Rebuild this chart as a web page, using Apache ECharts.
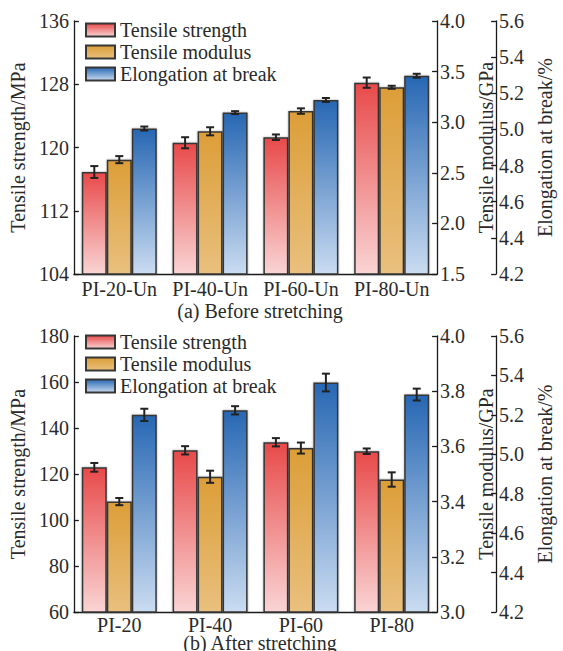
<!DOCTYPE html>
<html>
<head>
<meta charset="utf-8">
<script src="https://cdn.jsdelivr.net/npm/echarts@6/dist/echarts.min.js"></script>
<style>
html,body{margin:0;padding:0;background:#fff;}
#chart{width:563px;height:651px;}
</style>
</head>
<body>
<div id="chart"></div>
<script>
// ---------- data ----------
const categoriesBefore = ['PI-20-Un', 'PI-40-Un', 'PI-60-Un', 'PI-80-Un'];
const categoriesAfter = ['PI-20', 'PI-40', 'PI-60', 'PI-80'];
const seriesNames = ['Tensile strength', 'Tensile modulus', 'Elongation at break'];

const strengthBefore = [116.9, 120.6, 121.3, 128.2];
const strengthBeforeErr = [0.75, 0.7, 0.35, 0.65];
const modulusBefore = [2.63, 2.91, 3.11, 3.345];
const modulusBeforeErr = [0.035, 0.04, 0.027, 0.015];
const elongBefore = [5.005, 5.093, 5.163, 5.297];
const elongBeforeErr = [0.011, 0.008, 0.011, 0.011];

const strengthAfter = [122.9, 130.3, 133.8, 129.9];
const strengthAfterErr = [1.9, 1.8, 1.8, 1.2];
const modulusAfter = [3.40, 3.49, 3.594, 3.48];
const modulusAfterErr = [0.013, 0.022, 0.02, 0.026];
const elongAfter = [5.20, 5.223, 5.364, 5.303];
const elongAfterErr = [0.031, 0.021, 0.045, 0.03];

const axisNames = ['Tensile strength/MPa', 'Tensile modulus/GPa', 'Elongation at break/%'];
const captions = ['(a) Before stretching', '(b) After stretching'];

// ---------- style ----------
const FONT = 'Liberation Serif';
const TXT = '#2a2a2a';
const AX = '#1a1a1a';
const BAR_W = 25;
const gradients = [
  ['#E84A4A', '#FAD4D4'],
  ['#DC9E38', '#E9C07E'],
  ['#2767B3', '#CADCF1']
];
function grad(i) {
  return new echarts.graphic.LinearGradient(0, 0, 0, 1, [
    { offset: 0, color: gradients[i][0] },
    { offset: 1, color: gradients[i][1] }
  ]);
}

const grids = [
  { left: 72, right: 115, top: 21, height: 253 },
  { left: 72, right: 115, top: 336, height: 276 }
];

function yAxis(gridIndex, kind, min, max, interval, decimals) {
  const base = {
    gridIndex: gridIndex, type: 'value', min: min, max: max, interval: interval,
    name: axisNames[kind], nameLocation: 'middle', nameRotate: 90,
    nameTextStyle: { fontFamily: FONT, fontSize: 20, color: TXT },
    axisLine: { show: true, lineStyle: { color: AX, width: 1.3 } },
    axisTick: { show: true, inside: true, length: 5, lineStyle: { color: AX, width: 1.3 } },
    axisLabel: { fontFamily: FONT, fontSize: 20, color: TXT,
      formatter: v => v.toFixed(decimals) },
    splitLine: { show: false }
  };
  if (kind === 0) {
    base.position = 'left';
    base.nameGap = 43;
    base.axisLabel.margin = 5;
  } else {
    base.position = 'right';
    base.offset = kind === 1 ? 0 : 59;
    base.nameGap = kind === 1 ? 32 : 38;
    base.axisLabel.margin = 3;
  }
  return base;
}

function xAxis(gridIndex, cats, margin) {
  return {
    gridIndex: gridIndex, type: 'category', data: cats,
    axisLine: { show: true, lineStyle: { color: AX, width: 1.3 } },
    axisTick: { show: false },
    axisLabel: { fontFamily: FONT, fontSize: 20, color: TXT, margin: margin, interval: 0 },
    splitLine: { show: false }
  };
}

const yAxes = [
  yAxis(0, 0, 104, 136, 8, 0),
  yAxis(0, 1, 1.5, 4.0, 0.5, 1),
  yAxis(0, 2, 4.2, 5.6, 0.2, 1),
  yAxis(1, 0, 60, 180, 20, 0),
  yAxis(1, 1, 3.0, 4.0, 0.2, 1),
  yAxis(1, 2, 4.2, 5.6, 0.2, 1)
];

function barSeries(k, gridIdx, values) {
  return {
    name: seriesNames[k], type: 'bar',
    xAxisIndex: gridIdx, yAxisIndex: gridIdx * 3 + k,
    data: values, barWidth: BAR_W, barGap: '0%',
    itemStyle: {
      color: grad(k), borderColor: '#363636', borderWidth: 1.5,
      shadowColor: 'rgba(0,0,0,0.35)', shadowBlur: 2
    },
    z: 2
  };
}

function errSeries(k, gridIdx, values, errs) {
  return {
    name: 'err' + gridIdx + k, type: 'custom',
    xAxisIndex: gridIdx, yAxisIndex: gridIdx * 3 + k,
    data: values.map((v, i) => [i, v, errs[i]]),
    z: 5, silent: true,
    renderItem: function (params, api) {
      const i = api.value(0), v = api.value(1), e = api.value(2);
      const hi = api.coord([i, v + e]);
      const lo = api.coord([i, v - e]);
      const cx = hi[0] + (k - 1) * BAR_W;
      const cap = 4;
      const st = { stroke: '#222', lineWidth: 2 };
      return {
        type: 'group',
        children: [
          { type: 'line', shape: { x1: cx, y1: hi[1], x2: cx, y2: lo[1] }, style: st },
          { type: 'line', shape: { x1: cx - cap, y1: hi[1], x2: cx + cap, y2: hi[1] }, style: st },
          { type: 'line', shape: { x1: cx - cap, y1: lo[1], x2: cx + cap, y2: lo[1] }, style: st }
        ]
      };
    }
  };
}

const before = [[strengthBefore, strengthBeforeErr], [modulusBefore, modulusBeforeErr], [elongBefore, elongBeforeErr]];
const after = [[strengthAfter, strengthAfterErr], [modulusAfter, modulusAfterErr], [elongAfter, elongAfterErr]];
const series = [];
[before, after].forEach((set, g) => {
  set.forEach((pair, k) => series.push(barSeries(k, g, pair[0])));
  set.forEach((pair, k) => series.push(errSeries(k, g, pair[0], pair[1])));
});

function legend(top) {
  return {
    data: seriesNames.map(n => ({ name: n, icon: 'rect' })),
    orient: 'vertical', left: 80, top: top, padding: 5,
    itemWidth: 29, itemHeight: 13, itemGap: 2,
    textStyle: { fontFamily: FONT, fontSize: 20, color: TXT, lineHeight: 20 },
    selectedMode: false
  };
}

const chart = echarts.init(document.getElementById('chart'), null, { renderer: 'svg' });
chart.setOption({
  backgroundColor: '#fff',
  animation: false,
  grid: grids,
  xAxis: [xAxis(0, categoriesBefore, 5), xAxis(1, categoriesAfter, 3)],
  yAxis: yAxes,
  legend: [legend(15), legend(327)],
  series: series,
  graphic: [
    { type: 'text', x: 260, y: 311, style: { text: captions[0], fontFamily: FONT, fontSize: 20, fill: TXT, textAlign: 'center', textVerticalAlign: 'middle' } },
    { type: 'text', x: 260, y: 643, style: { text: captions[1], fontFamily: FONT, fontSize: 20, fill: TXT, textAlign: 'center', textVerticalAlign: 'middle' } }
  ]
});
</script>
</body>
</html>
